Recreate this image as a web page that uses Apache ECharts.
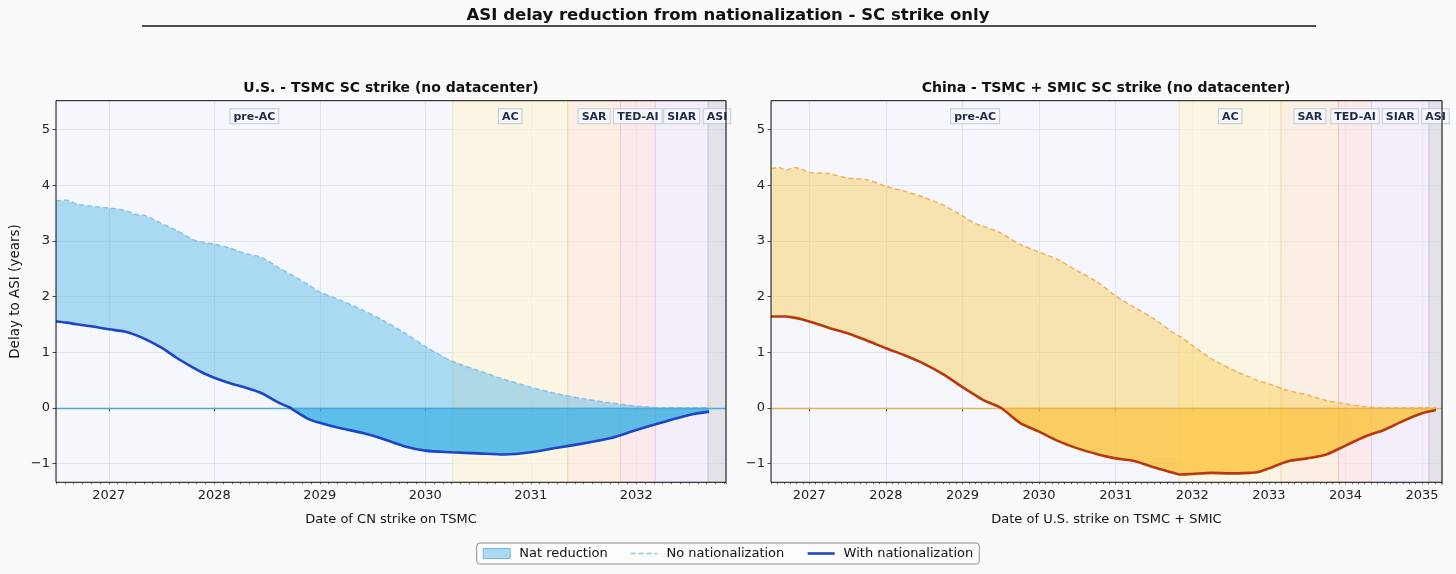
<!DOCTYPE html>
<html><head><meta charset="utf-8">
<script src="https://cdn.jsdelivr.net/npm/echarts@6/dist/echarts.min.js"></script>
<style>html,body{margin:0;padding:0;background:#fafafa}#c{width:1456px;height:574px}</style>
</head><body><div id="c"></div>
<script>
// ---- data ----
const usDates   = [2026.5,2026.6,2026.7,2026.85,2027.0,2027.15,2027.25,2027.35,2027.5,2027.65,2027.8,2027.9,2028.0,2028.15,2028.3,2028.45,2028.6,2028.72,2028.75,2028.9,2029.0,2029.2,2029.4,2029.6,2029.8,2030.0,2030.25,2030.5,2030.75,2031.0,2031.25,2031.5,2031.75,2032.0,2032.25,2032.5,2032.69];
const usNoNat   = [3.72,3.73,3.66,3.62,3.59,3.55,3.48,3.45,3.31,3.18,3.02,2.97,2.94,2.87,2.77,2.70,2.53,2.40,2.37,2.20,2.08,1.93,1.76,1.57,1.35,1.10,0.84,0.67,0.51,0.37,0.25,0.16,0.09,0.03,0.0,0.0,0.0];
const usWithNat = [1.55,1.53,1.50,1.46,1.41,1.37,1.31,1.23,1.08,0.89,0.72,0.62,0.54,0.44,0.36,0.26,0.10,0.0,-0.04,-0.21,-0.27,-0.37,-0.45,-0.56,-0.69,-0.77,-0.80,-0.82,-0.84,-0.80,-0.72,-0.64,-0.55,-0.40,-0.26,-0.13,-0.07];

const cnDates   = [2026.5,2026.6,2026.7,2026.8,2026.9,2027.0,2027.25,2027.5,2027.75,2028.0,2028.25,2028.5,2028.75,2029.0,2029.15,2029.3,2029.5,2029.75,2030.0,2030.25,2030.5,2030.75,2031.0,2031.25,2031.5,2031.75,2031.85,2032.0,2032.25,2032.5,2032.75,2032.85,2033.0,2033.25,2033.5,2033.75,2034.0,2034.25,2034.5,2034.75,2035.0,2035.18];
const cnNoNat   = [4.30,4.32,4.27,4.32,4.29,4.23,4.21,4.13,4.10,3.98,3.89,3.78,3.64,3.45,3.32,3.25,3.14,2.94,2.80,2.66,2.46,2.27,2.01,1.80,1.60,1.35,1.27,1.12,0.88,0.70,0.55,0.49,0.43,0.31,0.23,0.13,0.07,0.02,0.0,0.0,0.0,0.0];
const cnWithNat = [1.64,1.64,1.64,1.62,1.59,1.55,1.44,1.34,1.21,1.07,0.94,0.79,0.60,0.37,0.24,0.12,0.0,-0.27,-0.43,-0.60,-0.73,-0.83,-0.91,-0.96,-1.07,-1.17,-1.20,-1.19,-1.17,-1.18,-1.17,-1.16,-1.09,-0.96,-0.91,-0.84,-0.68,-0.52,-0.40,-0.24,-0.10,-0.04];

const phaseNames   = ['pre-AC','AC','SAR','TED-AI','SIAR','ASI'];
const usPhaseEdges = [2026.5,2030.26,2031.35,2031.85,2032.18,2032.68,2032.85];
const cnPhaseEdges = [2026.5,2031.83,2033.16,2033.91,2034.34,2035.09,2035.26];
const usXRange = [2026.5, 2032.85];
const cnXRange = [2026.5, 2035.26];
const yRange   = [-1.34, 5.52];
const legendNames = ['Nat reduction','No nationalization','With nationalization'];

// ---- styling ----
const FONT = '"DejaVu Sans", Verdana, sans-serif';
const phaseStyle = [
  {fill:'rgba(0,0,0,0)', border:'rgba(0,0,0,0)'},
  {fill:'rgba(255,245,210,0.6)', border:'rgba(238,214,140,0.45)'},
  {fill:'rgba(255,234,210,0.6)', border:'rgba(245,195,150,0.45)'},
  {fill:'rgba(255,224,225,0.6)', border:'rgba(240,170,175,0.45)'},
  {fill:'rgba(242,232,249,0.6)', border:'rgba(210,190,235,0.45)'},
  {fill:'rgba(213,212,219,0.6)', border:'rgba(180,180,190,0.45)'}
];
const panelStyle = [
  {light:'rgba(80,180,230,0.45)', dark:'rgba(40,172,226,0.6)', zero:'#4ea8d2', up:'#86c2ec', low:'#1b46c6'},
  {light:'rgba(248,200,70,0.42)', dark:'rgba(251,190,45,0.6)', zero:'#e6b552', up:'#f3b25f', low:'#b8390b'}
];
const SMOOTH = 0.3;

function bandsData(edges){
  return phaseNames.map((n,i)=>[
    {name:n, xAxis:edges[i], itemStyle:{color:phaseStyle[i].fill, borderColor:phaseStyle[i].border, borderWidth:1}},
    {xAxis:edges[i+1]}
  ]);
}

function fillRenderer(dates, upper, lower, color){
  return function(params, api){
    if (params.dataIndex !== 0) return null;
    const pts = [];
    for (let i = 0; i < dates.length; i++) pts.push(api.coord([dates[i], upper[i]]));
    for (let i = dates.length - 1; i >= 0; i--) pts.push(api.coord([dates[i], lower[i]]));
    return {type:'polygon', shape:{points:pts}, style:{fill:color}, silent:true};
  };
}

function panelSeries(p, dates, noNat, withNat, edges, names){
  const st = panelStyle[p];
  const common = {type:'line', xAxisIndex:p, yAxisIndex:p, symbol:'none', showSymbol:false, smooth:SMOOTH, animation:false};
  return [
    {
      type:'custom', name:names[0], xAxisIndex:p, yAxisIndex:p, z:2, animation:false, silent:true,
      itemStyle:{color:st.light},
      data: dates.map((d,i)=>[d, noNat[i], withNat[i]]),
      encode:{x:0, y:[1,2]},
      renderItem: fillRenderer(dates, noNat, withNat, st.light),
      markArea:{silent:true, z:1, animation:false,
        label:{show:true, position:'insideTop', distance:9, fontFamily:FONT, fontSize:11, fontWeight:'bold',
          color:'#1e2b47', backgroundColor:'rgba(246,247,251,0.95)', borderColor:'#c3ccdb', borderWidth:1, padding:[2,3,1,3]},
        data: bandsData(edges)}
    },
    Object.assign({}, common, {
      name:'neg'+p, z:3, silent:true,
      data: dates.map((d,i)=>[d, Math.min(withNat[i],0)]),
      lineStyle:{opacity:0}, areaStyle:{color:st.dark, opacity:1},
      markLine:{silent:true, symbol:['none','none'], animation:false, label:{show:false},
        lineStyle:{color:st.zero, width:1.3, type:'solid'}, data:[{yAxis:0}]}
    }),
    Object.assign({}, common, {
      name:names[1], z:4, color:st.up,
      data: dates.map((d,i)=>[d, noNat[i]]),
      lineStyle:{color:st.up, width:1.5, type:[5,3]}
    }),
    Object.assign({}, common, {
      name:names[2], z:5, color:st.low,
      data: dates.map((d,i)=>[d, withNat[i]]),
      lineStyle:{color:st.low, width:2.6}
    })
  ];
}

const gridRects = [
  {left:56, top:100.7, width:670, height:381.6},
  {left:771, top:100.7, width:671, height:381.6}
];

function mainX(i, range, name){
  return {type:'value', gridIndex:i, position:'bottom', min:range[0], max:range[1], minInterval:1, maxInterval:1,
    name:name, nameLocation:'middle', nameGap:31, nameTextStyle:{fontFamily:FONT, fontSize:13, color:'#111'},
    axisLine:{show:false}, axisTick:{show:true, length:3.5, lineStyle:{color:'#222', width:0.8}},
    axisLabel:{fontFamily:FONT, fontSize:13, color:'#222', margin:7, showMinLabel:false, showMaxLabel:false, formatter:v=>String(v)},
    splitLine:{show:true, lineStyle:{color:'#dcdfe6', width:0.8}}};
}
function minorX(i, range){
  return {type:'value', gridIndex:i, position:'bottom', min:range[0], max:range[1], interval:1/12,
    axisLine:{show:false}, axisTick:{show:true, length:2, lineStyle:{color:'#333', width:0.7}},
    axisLabel:{show:false}, splitLine:{show:false}};
}
function mainY(i, name){
  return {type:'value', gridIndex:i, min:yRange[0], max:yRange[1], minInterval:1, maxInterval:1,
    name:name, nameLocation:'middle', nameGap:34, nameRotate:90, nameTextStyle:{fontFamily:FONT, fontSize:13.5, color:'#111'},
    axisLine:{show:false}, axisTick:{show:true, length:3.5, lineStyle:{color:'#222', width:0.8}},
    axisLabel:{fontFamily:FONT, fontSize:13, color:'#222', margin:6, showMinLabel:false, showMaxLabel:false,
      formatter:v=> v<0 ? '\u2212'+Math.abs(v) : String(v)},
    splitLine:{show:true, lineStyle:{color:'#dcdfe6', width:0.8}}};
}

const option = {
  backgroundColor:'#fafafa',
  animation:false,
  graphic:[
    {type:'text', x:728, y:16, style:{text:'ASI delay reduction from nationalization - SC strike only', font:'bold 16.5px '+FONT, fill:'#111', align:'center', verticalAlign:'middle'}},
    {type:'line', shape:{x1:142, y1:26, x2:1316, y2:26}, style:{stroke:'#111', lineWidth:1.5}},
    {type:'text', x:391, y:88, style:{text:'U.S. - TSMC SC strike (no datacenter)', font:'bold 14px '+FONT, fill:'#111', align:'center', verticalAlign:'middle'}},
    {type:'text', x:1106, y:88, style:{text:'China - TSMC + SMIC SC strike (no datacenter)', font:'bold 14px '+FONT, fill:'#111', align:'center', verticalAlign:'middle'}}
  ],
  grid:[
    Object.assign({show:true, backgroundColor:'#f5f7fc', borderWidth:0}, gridRects[0]),
    Object.assign({show:true, backgroundColor:'#f5f7fc', borderWidth:0}, gridRects[1]),
    Object.assign({show:true, backgroundColor:'rgba(0,0,0,0)', borderColor:'#111', borderWidth:1, z:10}, gridRects[0]),
    Object.assign({show:true, backgroundColor:'rgba(0,0,0,0)', borderColor:'#111', borderWidth:1, z:10}, gridRects[1])
  ],
  xAxis:[
    mainX(0, usXRange, 'Date of CN strike on TSMC'),
    mainX(1, cnXRange, 'Date of U.S. strike on TSMC + SMIC'),
    minorX(0, usXRange),
    minorX(1, cnXRange),
    {type:'value', gridIndex:2, show:false, min:0, max:1},
    {type:'value', gridIndex:3, show:false, min:0, max:1}
  ],
  yAxis:[
    mainY(0, 'Delay to ASI (years)'),
    mainY(1, ''),
    {type:'value', gridIndex:2, show:false, min:0, max:1},
    {type:'value', gridIndex:3, show:false, min:0, max:1}
  ],
  legend:{
    left:'center', top:543, orient:'horizontal',
    backgroundColor:'#fdfdfd', borderColor:'#8a8a8a', borderWidth:1, borderRadius:3,
    padding:[4,6], itemGap:22, itemWidth:27, itemHeight:10,
    textStyle:{fontFamily:FONT, fontSize:13, color:'#111', padding:[0,0,0,4]},
    selectedMode:false,
    data:[
      {name:legendNames[0], icon:'rect', itemStyle:{color:'#acd9f2', borderColor:'#6fb8e6', borderWidth:1}},
      {name:legendNames[1], itemStyle:{opacity:0}, lineStyle:{color:'#86c2ec', width:1.5, type:[5,3]}},
      {name:legendNames[2], itemStyle:{opacity:0}, lineStyle:{color:'#1b46c6', width:2.6}}
    ]
  },
  series:[].concat(
    panelSeries(0, usDates, usNoNat, usWithNat, usPhaseEdges, legendNames),
    panelSeries(1, cnDates, cnNoNat, cnWithNat, cnPhaseEdges, ['Nat reduction (CN)','No nationalization (CN)','With nationalization (CN)'])
  )
};
const chart = echarts.init(document.getElementById('c'), null, {renderer:'canvas'});
chart.setOption(option);
</script></body></html>
